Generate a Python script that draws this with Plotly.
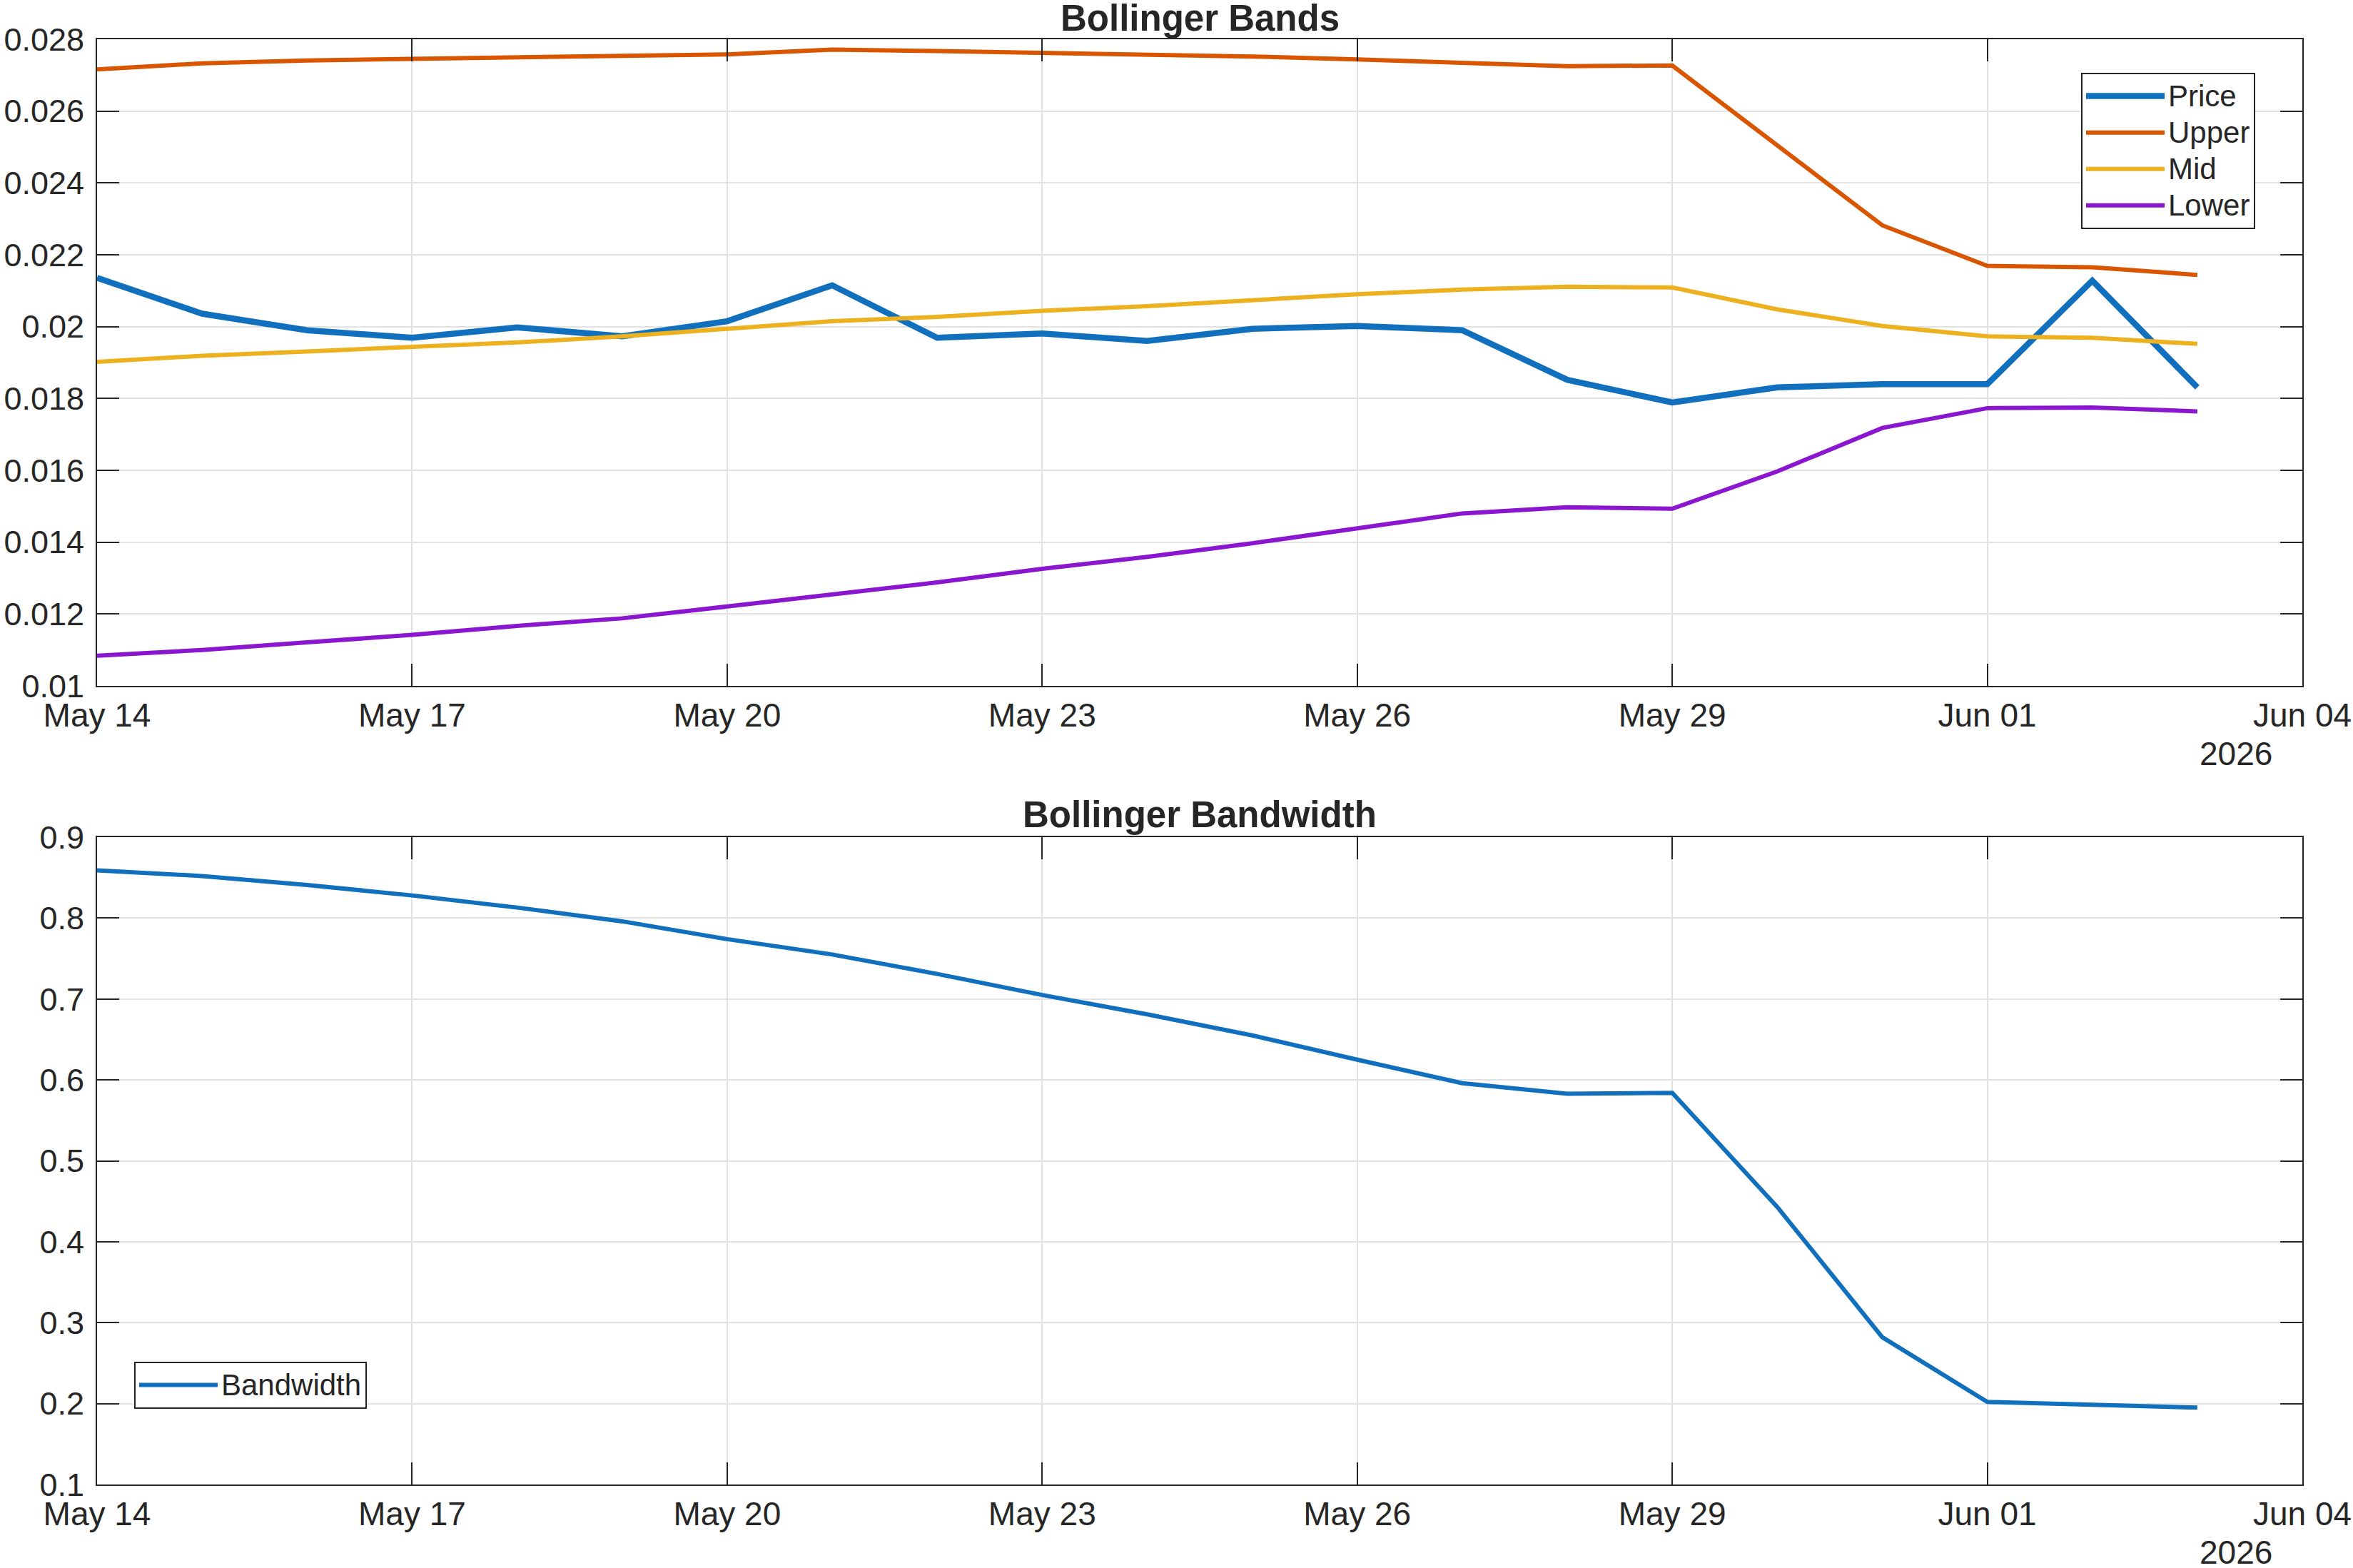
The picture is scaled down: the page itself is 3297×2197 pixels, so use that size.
import plotly.graph_objects as go
import pandas as pd

dates = pd.date_range("2026-05-14", "2026-06-03", freq="D")

price = [0.02136, 0.02036, 0.01990, 0.01969, 0.01998, 0.01973, 0.02015, 0.02115,
         0.01969, 0.01981, 0.01960, 0.01994, 0.02002, 0.01990, 0.01852, 0.01789,
         0.01831, 0.01840, 0.01840, 0.02128, 0.01831]
upper = [0.02716, 0.02733, 0.02741, 0.02746, 0.02750, 0.02754, 0.02758, 0.02771,
         0.02767, 0.02762, 0.02758, 0.02752, 0.02744, 0.02733, 0.02725, 0.02727,
         0.02503, 0.02282, 0.02169, 0.02165, 0.02144]
mid = [0.01902, 0.01919, 0.01931, 0.01944, 0.01956, 0.01973, 0.01994, 0.02015,
       0.02027, 0.02044, 0.02057, 0.02073, 0.02090, 0.02103, 0.02111, 0.02109,
       0.02048, 0.02002, 0.01973, 0.01969, 0.01952]
lower = [0.01084, 0.01100, 0.01121, 0.01142, 0.01167, 0.01188, 0.01221, 0.01255,
         0.01288, 0.01326, 0.01359, 0.01397, 0.01438, 0.01480, 0.01497, 0.01493,
         0.01597, 0.01718, 0.01773, 0.01775, 0.01764]
bandwidth = [0.859, 0.852, 0.841, 0.828, 0.813, 0.796, 0.774, 0.755, 0.731, 0.705,
             0.681, 0.655, 0.625, 0.596, 0.583, 0.584, 0.443, 0.282, 0.202, 0.198, 0.195]

series_names = ["Price", "Upper", "Mid", "Lower"]
bw_name = "Bandwidth"

top_ticks = [0.010, 0.012, 0.014, 0.016, 0.018, 0.020, 0.022, 0.024, 0.026, 0.028]
top_ticktext = ["0.01", "0.012", "0.014", "0.016", "0.018", "0.02", "0.022", "0.024", "0.026", "0.028"]
bot_ticks = [0.1, 0.2, 0.3, 0.4, 0.5, 0.6, 0.7, 0.8, 0.9]
bot_ticktext = ["0.1", "0.2", "0.3", "0.4", "0.5", "0.6", "0.7", "0.8", "0.9"]
x_range = ["2026-05-14", "2026-06-04"]
year_label = "2026"

C_BLUE = "#1170BE"
C_ORANGE = "#D95500"
C_YELLOW = "#EDB120"
C_PURPLE = "#8A17CF"
TXT = "#262626"
FONT = "Liberation Sans, Arial, Helvetica, sans-serif"


def leg_name(s):
    return '<span style="font-size:42px">%s</span>' % s


fig = go.Figure()
for vals, name, col, w in [(price, series_names[0], C_BLUE, 8.5),
                           (upper, series_names[1], C_ORANGE, 6),
                           (mid, series_names[2], C_YELLOW, 6),
                           (lower, series_names[3], C_PURPLE, 6)]:
    fig.add_trace(go.Scatter(x=dates, y=vals, name=leg_name(name), mode="lines",
                             line=dict(color=col, width=w), xaxis="x", yaxis="y",
                             legend="legend"))
fig.add_trace(go.Scatter(x=dates, y=bandwidth, name=leg_name(bw_name), mode="lines",
                         line=dict(color=C_BLUE, width=6), xaxis="x2", yaxis="y2",
                         legend="legend2"))

common_x = dict(type="date", range=x_range, tick0="2026-05-14", dtick=3 * 86400000,
                tickformat="%b %d", ticks="inside", ticklen=31, tickwidth=2, tickcolor=TXT,
                showline=True, linecolor=TXT, linewidth=2, mirror="ticks",
                showgrid=True, gridcolor="#e2e2e2", gridwidth=2, zeroline=False,
                automargin=False,
                tickfont=dict(size=46, color=TXT, family=FONT), ticklabelstandoff=0)
common_y = dict(ticks="inside", ticklen=31, tickwidth=2, tickcolor=TXT,
                showline=True, linecolor=TXT, linewidth=2, mirror="ticks",
                showgrid=True, gridcolor="#e2e2e2", gridwidth=2, zeroline=False,
                automargin=False,
                tickfont=dict(size=45, color=TXT, family=FONT), ticklabelstandoff=7)

top_dom = [1119 / 2025, 1.0]
bot_dom = [0.0, 907 / 2025]

fig.update_layout(
    width=3297, height=2197, autosize=False,
    margin=dict(l=136, r=71, t=55, b=117),
    paper_bgcolor="white", plot_bgcolor="white",
    font=dict(family=FONT, color=TXT, size=46),
    xaxis=dict(domain=[0, 1], anchor="y", **common_x),
    yaxis=dict(domain=top_dom, anchor="x", range=[0.010, 0.028],
               tickvals=top_ticks, ticktext=top_ticktext, **common_y),
    xaxis2=dict(domain=[0, 1], anchor="y2", **common_x),
    yaxis2=dict(domain=bot_dom, anchor="x2", range=[0.1, 0.9],
                tickvals=bot_ticks, ticktext=bot_ticktext, **common_y),
    legend=dict(x=(3160 - 136) / 3090, xanchor="right", y=(2080 - 102) / 2025, yanchor="top",
                bgcolor="white", bordercolor=TXT, borderwidth=2,
                font=dict(size=37, color=TXT, family=FONT), itemwidth=110,
                tracegroupgap=0),
    legend2=dict(x=(188 - 136) / 3090, xanchor="left", y=(2080 - 1974) / 2025, yanchor="bottom",
                 bgcolor="white", bordercolor=TXT, borderwidth=2,
                 font=dict(size=37, color=TXT, family=FONT), itemwidth=110),
    showlegend=True,
)

fig.add_annotation(text="<b>Bollinger Bands</b>", xref="paper", yref="paper",
                   x=0.5, y=top_dom[1], xanchor="center", yanchor="bottom",
                   showarrow=False, font=dict(size=51, color=TXT, family=FONT),
                   yshift=0, borderpad=0)
fig.add_annotation(text="<b>Bollinger Bandwidth</b>", xref="paper", yref="paper",
                   x=0.5, y=bot_dom[1], xanchor="center", yanchor="bottom",
                   showarrow=False, font=dict(size=51, color=TXT, family=FONT),
                   yshift=2, borderpad=0)
for yref in ["y domain", "y2 domain"]:
    fig.add_annotation(text=year_label, xref="paper", yref=yref,
                       x=(3185 - 136) / 3090, y=0, xanchor="right", yanchor="middle",
                       yshift=-95, showarrow=False, borderpad=0,
                       font=dict(size=46, color=TXT, family=FONT))

fig.write_html("out.html")
